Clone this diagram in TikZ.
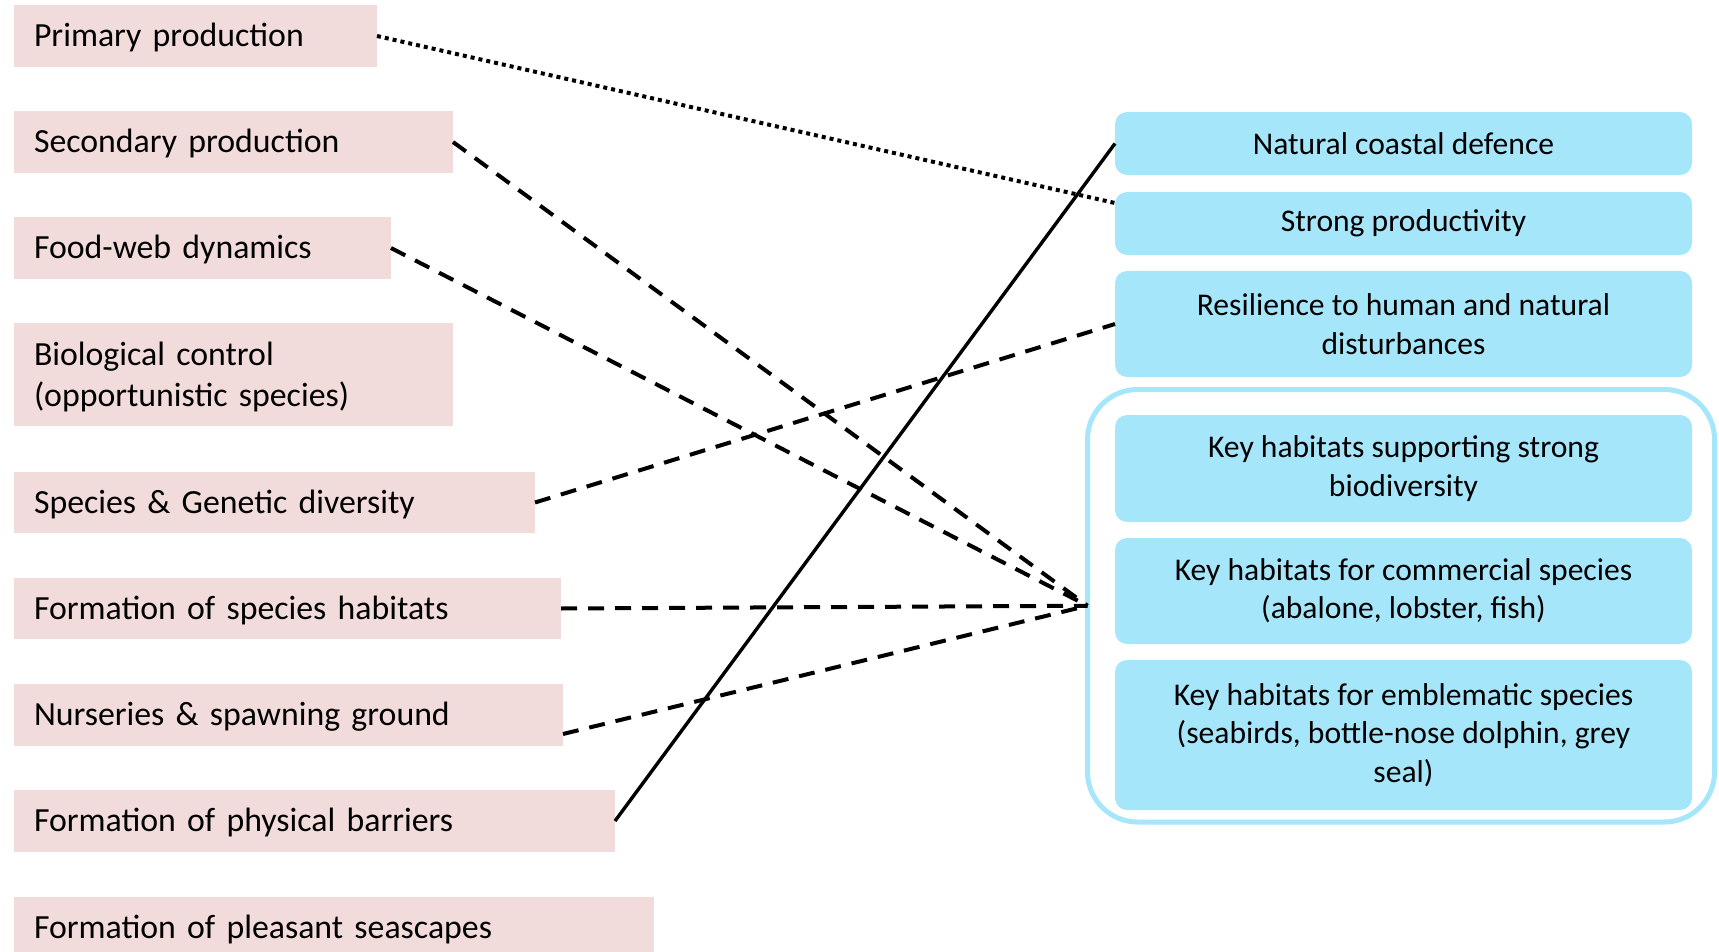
\documentclass[tikz,border=0pt]{standalone}
\usepackage{fontspec}
\setmainfont{Carlito}
\usetikzlibrary{calc}
\definecolor{pinkbox}{RGB}{242,220,219}
\definecolor{bluebox}{RGB}{166,230,251}
\begin{document}
\begin{tikzpicture}[x=0.5pt,y=-0.5pt,
 lbox/.style={fill=pinkbox, anchor=north west, inner xsep=10pt, inner ysep=0pt, outer sep=0pt, align=left, text depth=1pt, font=\fontsize{16.9}{20.6}\selectfont},
 rbox/.style={fill=bluebox, anchor=north west, rounded corners=6pt, inner sep=0pt, outer sep=0pt, minimum width=288.5pt, align=center, font=\fontsize{15.8}{19.2}\selectfont},
 container/.style={draw=bluebox, line width=2.5pt, rounded corners=25pt, inner sep=0pt, outer sep=0pt, anchor=north west},
 dashlink/.style={line width=2pt, dash pattern=on 8pt off 5.5pt},
 dotlink/.style={line width=2pt, dash pattern=on 2pt off 2pt},
 solidlink/.style={line width=1.7pt}]

\useasboundingbox (0,0) rectangle (1719,952);

% left boxes
\node[lbox, text width=161.5pt, minimum height=31pt] (prim) at (14,5) {Primary production};
\node[lbox, text width=199.5pt, minimum height=31pt] (sec) at (14,111) {Secondary production};
\node[lbox, text width=168.5pt, minimum height=31pt] (food) at (14,217) {Food-web dynamics};
\node[lbox, text width=199.5pt, minimum height=51.5pt, text depth=20.6pt] (bio) at (14,323) {Biological control\\(opportunistic species)};
\node[lbox, text width=240.5pt, minimum height=30.5pt] (spec) at (14,472) {Species \& Genetic diversity};
\node[lbox, text width=253.5pt, minimum height=30.5pt] (hab) at (14,578) {Formation of species habitats};
\node[lbox, text width=254.5pt, minimum height=31pt] (nurs) at (14,684) {Nurseries \& spawning ground};
\node[lbox, text width=280.5pt, minimum height=31pt] (phys) at (14,790) {Formation of physical barriers};
\node[lbox, text width=300pt, minimum height=31pt] (seas) at (14,897) {Formation of pleasant seascapes};

% container
\node[container, minimum width=313.5pt, minimum height=216.25pt] (cont) at (1087.5,389.5) {};

% right boxes
\node[rbox, minimum height=31.5pt] (r1) at (1115,112) {Natural coastal defence};
\node[rbox, minimum height=31.5pt] (r2) at (1115,192) {Strong productivity};
\node[rbox, minimum height=53pt] (r3) at (1115,271) {Resilience to human and natural\\disturbances};
\node[rbox, minimum height=53.5pt] (k1) at (1115,415) {Key habitats supporting strong\\biodiversity};
\node[rbox, minimum height=53pt] (k2) at (1115,538) {Key habitats for commercial species\\(abalone, lobster, fish)};
\node[rbox, minimum height=75pt] (k3) at (1115,660) {Key habitats for emblematic species\\(seabirds, bottle-nose dolphin, grey\\seal)};

% connectors
\draw[dotlink] (prim.east) -- ($(r2.north west)+(0,11)$);
\draw[dashlink] (sec.east) -- (cont.west);
\draw[dashlink] (food.east) -- (cont.west);
\draw[dashlink] (spec.east) -- (r3.west);
\draw[dashlink] (hab.east) -- (cont.west);
\draw[dashlink] ($(nurs.south east)+(0,-12)$) -- (cont.west);
\draw[solidlink] (phys.east) -- (r1.west);
\end{tikzpicture}
\end{document}
